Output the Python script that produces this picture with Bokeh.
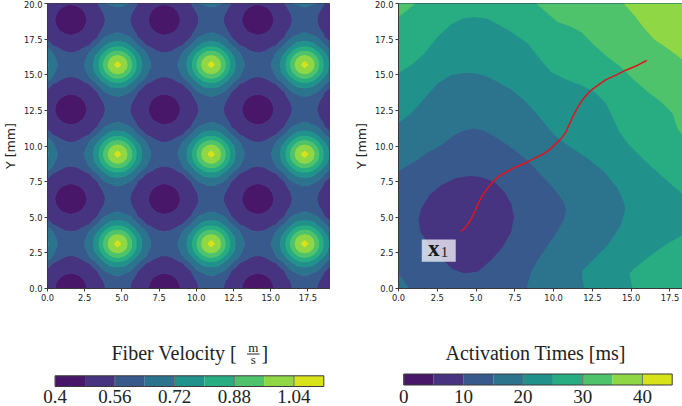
from bokeh.plotting import figure
from bokeh.layouts import row, column
from bokeh.models import Range1d, FixedTicker, PrintfTickFormatter, Label
from bokeh.core.properties import value
from bokeh.embed import file_html
from bokeh.resources import INLINE
import numpy as np

# colour bands (viridis, band mid-points)
BANDS = ["#481769", "#463480", "#38598c", "#2c738e", "#21918c", "#27ad81", "#4ec36b", "#8fd744", "#d8e219"]

velocity_levels = [0.4, 0.48, 0.56, 0.64, 0.72, 0.80, 0.88, 0.96, 1.04, 1.12]
velocity_ticks = [0.4, 0.56, 0.72, 0.88, 1.04]
velocity_tick_labels = ["0.4", "0.56", "0.72", "0.88", "1.04"]
time_levels = [0, 5, 10, 15, 20, 25, 30, 35, 40, 45]
time_ticks = [0, 10, 20, 30, 40]
time_tick_labels = ["0", "10", "20", "30", "40"]
axis_ticks_x = [0, 2.5, 5, 7.5, 10, 12.5, 15, 17.5]
axis_ticks_y = [0, 2.5, 5, 7.5, 10, 12.5, 15, 17.5, 20]

# Fiber velocity: one quarter of the repeating cell,
# from a peak (first value) to a minimum (last value); the cell is symmetric.
velocity_quarter = [
    [1.09, 1.027, .985, .925, .85, .783, .727, .687, .65, .63, .615, .605, .60],
    [1.008, .97, .913, .842, .778, .722, .682, .647, .625, .605, .593, .588],
    [.94, .88, .82, .758, .713, .67, .635, .607, .59, .579, .575],
    [.835, .777, .725, .685, .655, .618, .585, .572, .565, .562],
    [.73, .695, .66, .625, .595, .565, .553, .547, .545],
    [.655, .615, .565, .553, .544, .536, .53, .528],
    [.567, .553, .54, .53, .52, .513, .511],
    [.537, .525, .515, .506, .498, .495],
    [.518, .505, .491, .481, .477],
    [.484, .466, .456, .452],
    [.448, .438, .434],
    [.427, .424],
    [.42],
]
cell_step_mm = 0.2618
peak_index_x = 18
peak_index_y = 12

# Activation-time contours: (x, y) of each boundary in mm
time_15_x = [0, 1.03, 1.89, 2.75, 3.6, 4.14, 4.85, 5.54, 6.4, 7.04, 7.9, 8.76, 8.97, 9.62, 10.26, 10.69, 10.8, 10.65, 10.15, 9.62, 8.97, 8.54, 8.25, 19, 19, 0]
time_15_y = [8.23, 8.89, 9.54, 10.05, 10.76, 11.06, 11.22, 11.06, 10.52, 10.05, 9.35, 8.5, 8.19, 7.48, 6.66, 5.96, 5.5, 4.79, 3.86, 3.04, 1.99, 1.17, 0, 0, 20, 20]
time_15_corner_x = [0, 0.7, 0]
time_15_corner_y = [1.05, 0, 0]
time_20_x = [0, .81, 1.67, 2.53, 3.39, 4.14, 4.9, 5.65, 6.4, 7.26, 8.12, 8.97, 9.51, 10.05, 10.9, 12.2, 13.27, 14.13, 14.56, 14.6, 14.34, 13.48, 12.52, 11.87, 11.83, 11.98, 19, 19, 0]
time_20_y = [11.62, 12.28, 13.33, 14.38, 14.97, 15.13, 15.13, 14.9, 14.5, 13.96, 13.2, 12.2, 11.46, 10.75, 10.05, 9.12, 8.18, 7.02, 5.96, 5.5, 4.44, 3.04, 1.99, 1.28, .82, 0, 0, 20, 20]
time_25_x = [0, .81, 1.67, 2.53, 3.39, 4.14, 4.9, 5.65, 6.4, 7.26, 8.33, 8.97, 9.83, 10.91, 11.77, 12.62, 13.38, 13.8, 14.24, 14.88, 15.85, 16.92, 17.78, 18.31, 19, 19, 0]
time_25_y = [15.13, 15.67, 16.49, 17.66, 18.55, 18.94, 19.06, 18.94, 18.55, 18.01, 17.19, 16.3, 15.2, 14.62, 14.26, 13.8, 12.98, 12.04, 10.99, 10.05, 9.0, 7.95, 7.13, 6.66, 6.0, 20, 20]
time_25_low_x = [19, 18.31, 17.35, 16.27, 15.2, 14.88, 15.1, 19]
time_25_low_y = [4.1, 3.74, 3.16, 2.34, 1.4, 1.05, 0, 0]
time_30_corner_x = [0, 1.1, 0]
time_30_corner_y = [19.06, 20, 20]
time_30_x = [8.87, 9.62, 10.26, 11.12, 11.77, 12.62, 13.48, 14.34, 15.2, 16.06, 16.92, 17.67, 17.99, 18.31, 19, 19]
time_30_y = [20, 19.29, 18.71, 18.36, 18.0, 17.07, 16.25, 15.55, 14.62, 13.8, 13.1, 12.28, 11.2, 10.76, 10, 20]
time_35_x = [14.51, 15.2, 15.85, 16.49, 17.35, 18.31, 19, 19]
time_35_y = [20, 19.18, 18.24, 17.47, 16.84, 16.07, 15.5, 20]
time_10_x = [4.57, 5.32, 6.18, 6.83, 7.26, 7.45, 7.26, 6.72, 5.97, 5.11, 4.25, 3.5, 2.75, 1.99, 1.42, 1.29, 1.46, 1.99, 2.75, 3.71]
time_10_y = [7.9, 7.83, 7.48, 6.78, 5.96, 5.03, 3.97, 2.92, 1.99, 1.2, 1.05, 1.35, 2.1, 3.04, 3.97, 4.79, 5.61, 6.55, 7.25, 7.76]

# Red path
path_x = [4.04, 4.3, 4.57, 4.8, 5.0, 5.2, 5.43, 5.75, 6.08, 6.5, 7.04, 7.55, 8.12, 8.7, 9.3, 9.8, 10.26, 10.55, 10.8, 11.0, 11.23, 11.5, 11.77, 12.05, 12.41, 12.84, 13.38, 14.02, 14.66, 15.42, 16.0]
path_y = [4.02, 4.27, 4.67, 5.12, 5.6, 6.1, 6.55, 7.05, 7.48, 7.9, 8.23, 8.53, 8.77, 9.1, 9.42, 9.8, 10.29, 10.6, 11.0, 11.5, 12.04, 12.6, 13.1, 13.5, 13.91, 14.26, 14.66, 14.97, 15.32, 15.67, 16.0]


def panel(width, left_border, right_border, x_end):
    p = figure(width=width, height=320, output_backend="svg", toolbar_location=None,
               x_range=Range1d(0, x_end), y_range=Range1d(0, 20),
               min_border_left=left_border, min_border_right=right_border,
               min_border_top=3, min_border_bottom=32)
    p.grid.visible = False
    p.outline_line_color = "#3a3a3a"
    p.outline_line_width = 1
    for ax, ticks in ((p.xaxis[0], axis_ticks_x), (p.yaxis[0], axis_ticks_y)):
        ax.ticker = FixedTicker(ticks=ticks)
        ax.formatter = PrintfTickFormatter(format="%.1f")
        ax.major_label_text_font = "DejaVu Sans"
        ax.major_label_text_font_size = "8.3px"
        ax.major_label_text_color = "#222222"
        ax.major_label_standoff = 2
        ax.major_tick_out = 3
        ax.major_tick_in = 0
        ax.minor_tick_out = 0
        ax.minor_tick_in = 0
        ax.axis_line_color = "#3a3a3a"
        ax.major_tick_line_color = "#3a3a3a"
    ya = p.yaxis[0]
    ya.axis_label = "Y [mm]"
    ya.axis_label_text_font = "DejaVu Sans"
    ya.axis_label_text_font_size = "12.6px"
    ya.axis_label_text_font_style = "normal"
    ya.axis_label_text_color = "#222222"
    ya.axis_label_standoff = 3
    p.add_layout(Label(x=10, y=-1.64, text="X [mm]", text_font="DejaVu Sans", text_font_size="12.6px",
                       text_color="#222222", text_align="center", text_baseline="middle"))
    return p


# ---- left panel
quarter = np.zeros((13, 13))
for j, r in enumerate(velocity_quarter):
    for i, v in enumerate(r):
        quarter[j, i + j] = v
        quarter[i + j, j] = v
gx = np.arange(74)
gy = np.arange(78)
ix = np.abs((gx - peak_index_x + 12) % 24 - 12)
iy = np.abs((gy - peak_index_y + 12) % 24 - 12)
velocity_grid = quarter[iy][:, ix]

left = panel(341, 45, 12, 18.95)
left.contour(gx * cell_step_mm, gy * cell_step_mm, velocity_grid, velocity_levels,
             fill_color=BANDS, line_color=BANDS + [BANDS[-1]], line_width=1.2)

# ---- right panel
right = panel(341, 57, 0, 18.31)
right.background_fill_color = BANDS[2]
right.patches(xs=[time_15_x, time_15_corner_x], ys=[time_15_y, time_15_corner_y], fill_color=BANDS[3], line_color=None)
right.patch(time_20_x, time_20_y, fill_color=BANDS[4], line_color=None)
right.patches(xs=[time_25_x, time_25_low_x], ys=[time_25_y, time_25_low_y], fill_color=BANDS[5], line_color=None)
right.patches(xs=[time_30_x, time_30_corner_x], ys=[time_30_y, time_30_corner_y], fill_color=BANDS[6], line_color=None)
right.patch(time_35_x, time_35_y, fill_color=BANDS[7], line_color=None)
right.patch(time_10_x, time_10_y, fill_color=BANDS[1], line_color=None)
right.line(path_x, path_y, line_color="#e0141c", line_width=1.5)
right.quad(left=[1.5], right=[3.69], bottom=[1.87], top=[3.44], fill_color="white", fill_alpha=0.72, line_color=None)
right.text(x=[2.27], y=[2.8], text=["x"], text_font=value("Liberation Serif"), text_font_style="bold",
           text_font_size="23px", text_color="#1a1a1a", text_baseline="middle", text_align="center")
right.text(x=[2.97], y=[2.55], text=["1"], text_font=value("Liberation Serif"),
           text_font_size="15px", text_color="#1a1a1a", text_baseline="middle", text_align="center")


# ---- colour bar strips: full-bleed frame, horizontal range fitted to it,
# vertical range in strip pixels.
def bar(levels, ticks, labels, bar_left, bar_right, bar_top, bar_bottom, fig_height=86, fig_width=341):
    s = (bar_right - bar_left) / (levels[-1] - levels[0])
    start = levels[0] - bar_left / s
    end = start + fig_width / s
    f = figure(width=fig_width, height=fig_height, output_backend="svg", toolbar_location=None,
               x_range=Range1d(start, end), y_range=Range1d(fig_height, 0),
               x_axis_location=None, y_axis_location=None,
               min_border_left=0, min_border_right=0, min_border_top=0, min_border_bottom=0,
               outline_line_color=None)
    f.grid.visible = False
    f.quad(left=levels[:-1], right=levels[1:], top=bar_top, bottom=bar_bottom, fill_color=BANDS, line_color=None)
    f.segment(x0=ticks, x1=ticks, y0=bar_top, y1=bar_bottom, line_color="#6e6e6e", line_width=1)
    f.quad(left=[levels[0]], right=[levels[-1]], top=[bar_top], bottom=[bar_bottom], fill_color=None,
           line_color="#3a3a3a", line_width=1)
    for t, lab in zip(ticks, labels):
        f.add_layout(Label(x=t, y=75.5, text=lab, text_font="Liberation Serif", text_font_size="19px",
                           text_color="#222222", text_align="center", text_baseline="middle"))
    return f, (lambda px: start + px / s)


cb_left, lx = bar(velocity_levels, velocity_ticks, velocity_tick_labels, 54.7, 323.3, 55.3, 66)
cb_right, rx = bar(time_levels, time_ticks, time_tick_labels, 62.3, 330.7, 53.5, 64.5)


def serif(f, x, y, s, size="20px", align="left"):
    f.add_layout(Label(x=x, y=y, text=s, text_font="Liberation Serif", text_font_size=size,
                       text_color="#222222", text_align=align, text_baseline="middle"))


serif(cb_left, lx(111), 32, "Fiber Velocity [")
serif(cb_left, lx(252.7), 27, "m", "13px", "center")
serif(cb_left, lx(252.7), 39, "s", "13px", "center")
cb_left.segment(x0=[lx(246.5)], x1=[lx(259)], y0=[33.5], y1=[33.5], line_color="#222222", line_width=1)
serif(cb_left, lx(261), 32, "]")
serif(cb_right, rx(104), 32, "Activation Times [ms]")

root = column(row(left, right, spacing=0), row(cb_left, cb_right, spacing=0), spacing=0)
open("out.html", "w").write(file_html(root, INLINE))
